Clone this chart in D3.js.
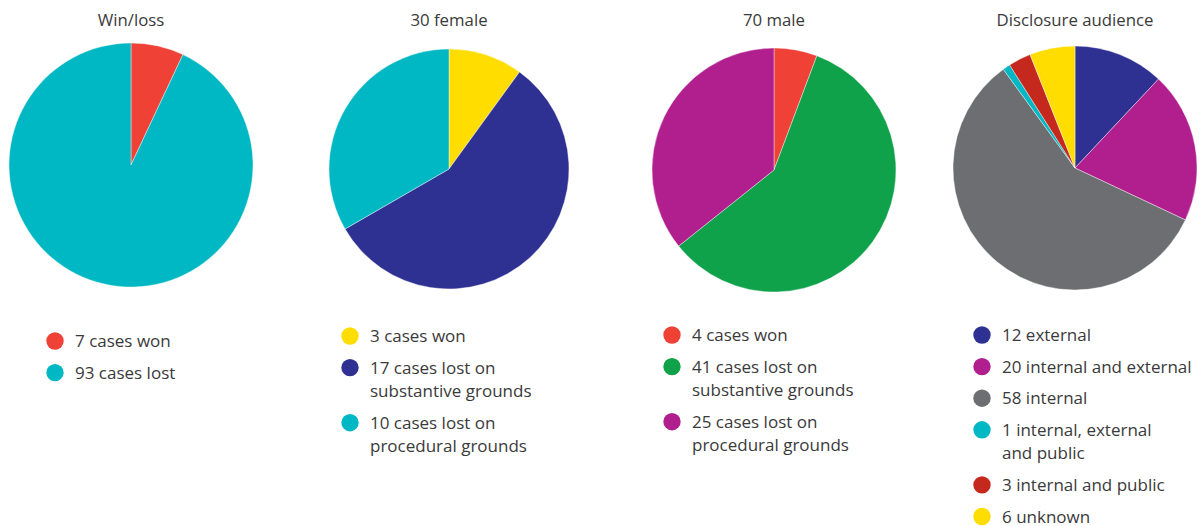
<!DOCTYPE html>
<html>
<head>
<meta charset="utf-8">
<script src="https://cdn.jsdelivr.net/npm/d3@7"></script>
<style>
  body { margin: 0; background: #fff; }
  text { font-family: "Open Sans", "Noto Sans", sans-serif; fill: #3a3a3a; }
</style>
</head>
<body>
<div id="chart"></div>
<script>
const width = 1204;
const height = 526;

// data per pie, in legend order (drawn clockwise from 12 o'clock)
const titles = ["Win/loss", "30 female", "70 male", "Disclosure audience"];

const winLossLabels = [["7 cases won"], ["93 cases lost"]];
const winLossValues = [7, 93];
const winLossColors = ["#ef4136", "#00b8c4"];

const femaleLabels = [["3 cases won"], ["17 cases lost on", "substantive grounds"], ["10 cases lost on", "procedural grounds"]];
const femaleValues = [3, 17, 10];
const femaleColors = ["#ffdd00", "#2e3192", "#00b8c4"];

const maleLabels = [["4 cases won"], ["41 cases lost on", "substantive grounds"], ["25 cases lost on", "procedural grounds"]];
const maleValues = [4, 41, 25];
const maleColors = ["#ef4136", "#10a24a", "#b01f8d"];

const audienceLabels = [["12 external"], ["20 internal and external"], ["58 internal"], ["1 internal, external", "and public"], ["3 internal and public"], ["6 unknown"]];
const audienceValues = [12, 20, 58, 1, 3, 6];
const audienceColors = ["#2e3192", "#b01f8d", "#6d6e71", "#00b8c4", "#c5281c", "#ffdd00"];

const pies = [
    {title: titles[0], labels: winLossLabels, values: winLossValues, colors: winLossColors, cx: 131, cy: 165, r: 122, lx: 55, ly: 341},
    {title: titles[1], labels: femaleLabels, values: femaleValues, colors: femaleColors, cx: 449, cy: 169, r: 120, lx: 350, ly: 336},
    {title: titles[2], labels: maleLabels, values: maleValues, colors: maleColors, cx: 774, cy: 170, r: 122, lx: 672, ly: 335},
    {title: titles[3], labels: audienceLabels, values: audienceValues, colors: audienceColors, cx: 1075, cy: 168, r: 122, lx: 982, ly: 335}
];

const svg = d3.select("#chart").append("svg")
    .attr("width", width)
    .attr("height", height);

const pie = d3.pie().sort(null).value(d => d);

pies.forEach(p => {
    const g = svg.append("g").attr("transform", `translate(${p.cx},${p.cy})`);
    const arc = d3.arc().innerRadius(0).outerRadius(p.r);

    g.selectAll("path")
        .data(pie(p.values))
        .enter()
        .append("path")
        .attr("d", arc)
        .attr("fill", (d, i) => p.colors[i])
        .attr("stroke", "#fff")
        .attr("stroke-width", 0.4);

    svg.append("text")
        .attr("x", p.cx)
        .attr("y", 26)
        .attr("text-anchor", "middle")
        .style("font-size", "16.8px")
        .text(p.title);

    // legend
    let y = p.ly;
    const leg = svg.append("g");
    p.labels.forEach((lines, i) => {
        leg.append("circle")
            .attr("cx", p.lx)
            .attr("cy", y)
            .attr("r", 8.7)
            .attr("fill", p.colors[i]);
        const t = leg.append("text")
            .attr("x", p.lx + 20)
            .attr("y", y + 6)
            .style("font-size", "17px");
        lines.forEach((ln, j) => {
            t.append("tspan")
                .attr("x", p.lx + 20)
                .attr("dy", j === 0 ? 0 : 23.5)
                .text(ln);
        });
        y += 31.6 + (lines.length - 1) * 23.5;
    });
});
</script>
</body>
</html>
